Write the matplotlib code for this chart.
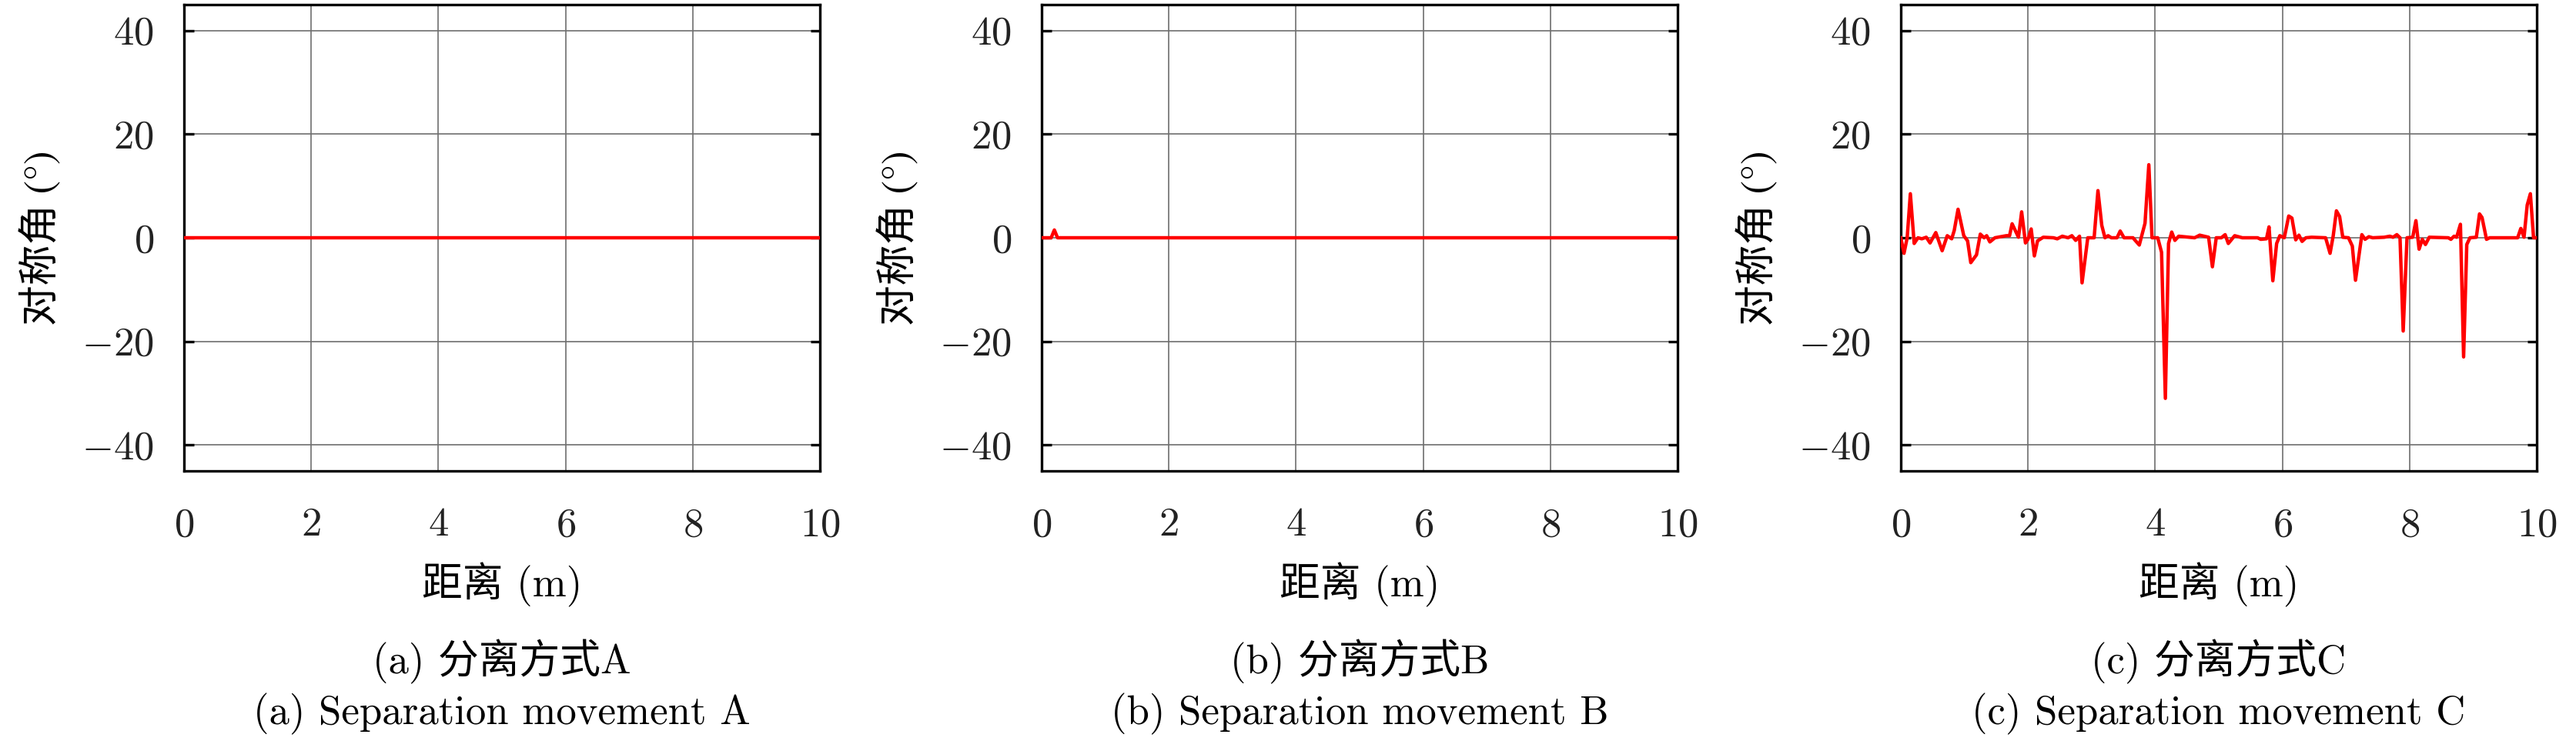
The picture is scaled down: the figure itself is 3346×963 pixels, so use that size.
import numpy as np
import matplotlib
matplotlib.use('Agg')
import matplotlib.pyplot as plt

plt.rcParams['font.family'] = ['cmr10', 'Noto Sans CJK SC', 'DejaVu Serif']
plt.rcParams['mathtext.fontset'] = 'cm'
plt.rcParams['axes.formatter.use_mathtext'] = True

# panel data
xa = [0, 10]
ya = [0, 0]

xb = [0, 0.15, 0.2, 0.25, 10]
yb = [0, 0, 1.5, 0, 0]

xc = [0.00, 0.05, 0.10, 0.15, 0.21, 0.27, 0.33, 0.40, 0.46, 0.55, 0.65, 0.73, 0.80, 0.84, 0.90,
      0.99, 1.05, 1.10, 1.19, 1.25, 1.31, 1.35, 1.40, 1.48, 1.66, 1.71, 1.75, 1.85, 1.90, 1.96,
      2.00, 2.05, 2.10, 2.15, 2.24, 2.40, 2.46, 2.54, 2.63, 2.69, 2.75, 2.81, 2.85, 2.94, 3.04,
      3.10, 3.16, 3.21, 3.26, 3.31, 3.40, 3.45, 3.51, 3.65, 3.75, 3.84, 3.90, 3.95, 4.04, 4.10,
      4.16, 4.21, 4.26, 4.31, 4.37, 4.62, 4.70, 4.84, 4.90, 4.96, 5.04, 5.10, 5.15, 5.25, 5.37,
      5.61, 5.66, 5.75, 5.79, 5.85, 5.91, 5.96, 6.03, 6.10, 6.15, 6.21, 6.26, 6.31, 6.37, 6.46,
      6.68, 6.75, 6.80, 6.85, 6.90, 6.95, 7.04, 7.10, 7.15, 7.25, 7.30, 7.36, 7.42, 7.60, 7.69,
      7.74, 7.80, 7.85, 7.90, 7.96, 8.05, 8.10, 8.15, 8.20, 8.25, 8.31, 8.61, 8.65, 8.70, 8.74,
      8.80, 8.85, 8.90, 8.95, 9.05, 9.10, 9.14, 9.21, 9.26, 9.70, 9.75, 9.80, 9.85, 9.90, 9.95,
      10.0]
yc = [0, -3, 0, 8.5, -1.1, 0, -0.2, 0.1, -1, 1.0, -2.5, 0.4, -0.2, 1.4, 5.5,
      0.4, -0.6, -4.8, -3.3, 0.7, 0, 0.4, -0.8, 0, 0.4, 0.4, 2.7, 0.1, 5.0, -1.0,
      -0.3, 1.7, -3.5, -0.6, 0.1, 0, -0.2, 0.3, 0, 0.4, -0.5, 0.3, -8.7, 0, 0,
      9.1, 2.4, 0, 0.4, 0, 0, 1.3, 0, 0, -1.4, 2.8, 14.1, 0, 0, -2.8,
      -31, -1.1, 1.1, -0.5, 0.3, 0, 0.5, 0.1, -5.6, 0, 0, 0.6, -1.1, 0.4, 0,
      0, -0.3, -0.2, 2.1, -8.3, -1.1, 0.4, 0, 4.2, 3.8, -0.4, 0.5, -0.7, 0, 0.1,
      0, -3.0, 0.4, 5.2, 4.1, 0.1, 0, -1.6, -8.2, 0.6, -0.3, 0.2, 0, 0.1, 0.3,
      0.1, 0.6, 0, -18, 0, 0.1, 3.3, -2.2, -0.3, -1.3, 0.1, 0, -0.3, 0.3, 0.1,
      2.6, -23, -1.3, 0, 0.1, 4.6, 3.9, -0.3, 0, 0, 1.8, 0.1, 6.3, 8.5, 0,
      0]

xticks = [0, 2, 4, 6, 8, 10]
yticks = [-40, -20, 0, 20, 40]
captions_cn = ['(a) 分离方式A', '(b) 分离方式B', '(c) 分离方式C']
captions_en = ['(a) Separation movement A', '(b) Separation movement B', '(c) Separation movement C']

W, H = 3346, 963
fig = plt.figure(figsize=(W / 100, H / 100), dpi=100)

lefts = [239, 1353, 2469]
aw, ab, ah = 826, 612, 606
fs = 38

for i, (x, y) in enumerate([(xa, ya), (xb, yb), (xc, yc)]):
    ax = fig.add_axes([lefts[i] / W, 1 - ab / H, aw / W, ah / H])
    ax.plot(x, y, color='#ff0000', lw=3.2, zorder=3)
    ax.set_xlim(0, 10)
    ax.set_ylim(-45, 45)
    ax.set_xticks(xticks)
    ax.set_yticks(yticks)
    ax.grid(True, color='#6e6e6e', lw=1.2)
    for s in ax.spines.values():
        s.set_linewidth(2.4)
    ax.tick_params(axis='y', direction='in', length=9, width=2.4, left=True, right=True,
                   labelsize=fs, pad=28)
    ax.tick_params(axis='x', length=0, labelsize=fs, pad=34)
    for lab in ax.get_xticklabels() + ax.get_yticklabels():
        lab.set_color('#222222')
    ax.set_xlabel('距离 (m)', fontsize=fs, labelpad=18)
    ax.set_ylabel('对称角 (°)', fontsize=fs, labelpad=18,
                  family=['STIXGeneral', 'Noto Sans CJK SC'])
    cx = (lefts[i] + aw / 2) / W
    fig.text(cx, 1 - 860 / H, captions_cn[i], fontsize=fs, ha='center', va='center')
    fig.text(cx, 1 - 928 / H, captions_en[i], fontsize=fs, ha='center', va='center')

fig.savefig('out.png', dpi=100)
